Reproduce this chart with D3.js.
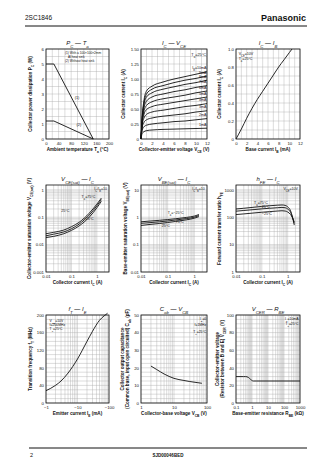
<!DOCTYPE html>
<html><head><meta charset="utf-8">
<script src="https://cdn.jsdelivr.net/npm/d3@7"></script>
<style>body{margin:0;background:#fff}svg{display:block}text{font-family:"Liberation Sans",Arial,sans-serif;fill:#111}</style>
</head><body><svg id="c" width="336" height="474"></svg>
<script>
// ---------- data ----------
// Chart 1: PC - Ta
const taVals = [0, 25, 150];
const pcHeatSink = [5.0, 5.0, 0];
const pcNoSink = [1.2, 1.2, 0];
// Chart 2: IC - VCE
const vceVals = [0, 0.2, 0.5, 1, 2, 4, 6, 8, 10, 12];
const ibLabels = ["I_{B}=10mA","9mA","8mA","7mA","6mA","5mA","4mA","3mA","2mA","1mA"];
const icCurves = [
  [0,0.35,0.62,0.80,0.88,0.95,1.00,1.04,1.08,1.12],
  [0,0.33,0.58,0.75,0.83,0.89,0.94,0.98,1.01,1.05],
  [0,0.31,0.55,0.70,0.77,0.83,0.87,0.91,0.94,0.98],
  [0,0.29,0.50,0.63,0.70,0.75,0.79,0.82,0.86,0.89],
  [0,0.27,0.45,0.56,0.62,0.67,0.70,0.73,0.77,0.80],
  [0,0.25,0.40,0.49,0.54,0.58,0.61,0.64,0.67,0.70],
  [0,0.22,0.34,0.41,0.45,0.48,0.51,0.54,0.56,0.59],
  [0,0.19,0.27,0.32,0.35,0.38,0.40,0.42,0.45,0.47],
  [0,0.14,0.20,0.23,0.25,0.27,0.29,0.30,0.32,0.34],
  [0,0.09,0.12,0.14,0.15,0.16,0.165,0.17,0.175,0.18]
];
// Chart 3: IC - IB
const ibVals = [0,1,2,3,4,5,6,7,8,9,10,10.5];
const icVsIb = [0,0.11,0.23,0.34,0.44,0.53,0.62,0.71,0.80,0.88,0.96,1.0];
// Chart 4: VCE(sat) - IC
const icSat = [0.01,0.02,0.05,0.1,0.2,0.5,1,1.5];
const vceSat75 = [0.025,0.028,0.034,0.045,0.065,0.14,0.30,0.50];
const vceSat25 = [0.021,0.024,0.029,0.038,0.056,0.12,0.26,0.44];
const vceSatM25 = [0.018,0.020,0.025,0.033,0.048,0.10,0.22,0.38];
// Chart 5: VBE(sat) - IC
const vbeSatM25 = [0.68,0.72,0.77,0.82,0.88,0.98,1.10,1.25];
const vbeSat25 = [0.60,0.63,0.68,0.73,0.79,0.89,1.00,1.15];
const vbeSat75 = [0.50,0.54,0.59,0.64,0.70,0.80,0.92,1.05];
// Chart 6: hFE - IC
const icHfe = [0.01,0.02,0.05,0.1,0.2,0.4,0.6,0.8,1.0,1.3,1.8];
const hfe75 = [200,212,232,248,262,275,280,270,240,170,52];
const hfe25 = [166,176,190,202,212,222,228,222,200,150,60];
const hfeM25 = [125,132,143,152,160,168,172,168,155,125,68];
// Chart 7: fT - IE
const ieVals = [-1,-2,-3,-5,-10,-20,-30,-50,-70,-90];
const ftVals = [28,40,50,68,100,140,163,188,198,204];
// Chart 8: Cob - VCB
const vcbVals = [2,3,5,10,20,30,50,70];
const cobVals = [21,19,16.5,14,12.8,12.2,11.6,11.2];
// Chart 9: VCER - RBE
const rbeVals = [0.1,0.3,0.4,0.6,0.8,1.2,2,10,100,1000];
const vcerVals = [30,30,30,29,27,25,25,25,25,25];

// ---------- helpers ----------
const svg = d3.select('#c');
const FONT = '"Liberation Sans",Arial,sans-serif';
function rich(t, str){
  const re=/_\{([^}]*)\}/g; let last=0,m;
  while((m=re.exec(str))){
    if(m.index>last) t.append('tspan').text(str.slice(last,m.index));
    t.append('tspan').attr('baseline-shift','sub').attr('font-size','72%').text(m[1]);
    last=re.lastIndex;
  }
  if(last<str.length) t.append('tspan').text(str.slice(last));
  return t;
}
function logGrid(a,b){
  const out=[];
  for(let e=Math.floor(Math.log10(a)); e<=Math.ceil(Math.log10(b)); e++)
    for(let k=1;k<10;k++){const v=k*Math.pow(10,e); if(v>=a*0.999&&v<=b*1.001) out.push(v);}
  return out;
}
function lin(a,b,s){const o=[];for(let v=a;v<=b+1e-9;v+=s)o.push(+v.toFixed(6));return o;}

function chart(o){
  const x=(o.xlog?d3.scaleLog():d3.scaleLinear()).domain(o.xd).range([o.l,o.r]);
  const y=(o.ylog?d3.scaleLog():d3.scaleLinear()).domain(o.yd).range([o.b,o.t]);
  const g=svg.append('g');
  g.selectAll('line.gx').data(o.xg).join('line').attr('x1',d=>x(d)).attr('x2',d=>x(d))
    .attr('y1',o.t).attr('y2',o.b).attr('stroke','#a8a8a8').attr('stroke-width',0.4);
  g.selectAll('line.gy').data(o.yg).join('line').attr('y1',d=>y(d)).attr('y2',d=>y(d))
    .attr('x1',o.l).attr('x2',o.r).attr('stroke','#a8a8a8').attr('stroke-width',0.4);
  g.append('rect').attr('x',o.l).attr('y',o.t).attr('width',o.r-o.l).attr('height',o.b-o.t)
    .attr('fill','none').attr('stroke','#111').attr('stroke-width',0.8);
  const ax=d3.axisBottom(x).tickValues(o.xt).tickFormat((d,i)=>o.xl[i]).tickSize(0).tickPadding(2.5);
  g.append('g').attr('transform',`translate(0,${o.b})`).call(ax)
    .attr('font-size',4.3).attr('font-family',FONT).call(s=>s.select('.domain').remove());
  const ay=d3.axisLeft(y).tickValues(o.yt).tickFormat((d,i)=>o.yl[i]).tickSize(0).tickPadding(2);
  g.append('g').attr('transform',`translate(${o.l},0)`).call(ay)
    .attr('font-size',4.3).attr('font-family',FONT).call(s=>s.select('.domain').remove());
  g.selectAll('.tick text').attr('fill','#111');
  rich(g.append('text').attr('x',(o.l+o.r)/2).attr('y',o.t-4).attr('text-anchor','middle')
    .attr('font-size',6).attr('font-style','italic'), o.title);
  rich(g.append('text').attr('x',(o.l+o.r)/2).attr('y',o.b+11.5).attr('text-anchor','middle')
    .attr('font-size',4.6).attr('font-weight','bold'), o.xtitle);
  o.ytitle.forEach((s,i)=>{
    rich(g.append('text').attr('transform',`translate(${o.l-o.yto+i*5},${(o.t+o.b)/2}) rotate(-90)`)
      .attr('text-anchor','middle').attr('font-size',4.6).attr('font-weight','bold'), s);
  });
  const line=d3.line().x(d=>x(d[0])).y(d=>y(d[1])).curve(o.curve||d3.curveMonotoneX);
  (o.series||[]).forEach(s=>{
    g.append('path').attr('d',line(s)).attr('fill','none').attr('stroke','#111').attr('stroke-width',o.sw||0.9);
  });
  (o.notes||[]).forEach(n=>{
    rich(g.append('text').attr('x',x(n[0])).attr('y',y(n[1])).attr('font-size',n[3]||3.8)
      .attr('text-anchor',n[4]||'start'), n[2]);
  });
  return {x,y,g};
}
const zip=(a,b)=>a.map((v,i)=>[v,b[i]]);

// ---------- header / footer ----------
svg.append('text').attr('x',25).attr('y',20).attr('font-size',6.5).text('2SC1846');
svg.append('text').attr('x',306).attr('y',20.5).attr('font-size',9).attr('font-weight','bold').attr('text-anchor','end').text('Panasonic');
svg.append('line').attr('x1',25).attr('x2',307).attr('y1',26).attr('y2',26).attr('stroke','#111').attr('stroke-width',1);
svg.append('line').attr('x1',29).attr('x2',307).attr('y1',448).attr('y2',448).attr('stroke','#111').attr('stroke-width',1);
svg.append('text').attr('x',30).attr('y',457).attr('font-size',5.5).text('2');
svg.append('text').attr('x',168).attr('y',457).attr('font-size',4.5).attr('font-weight','bold').attr('text-anchor','middle').text('SJD00046BED');

const R1={t:49,b:139}, R2={t:185,b:272}, R3={t:315,b:403};
const C1={l:46,r:109}, C2={l:141,r:207}, C3={l:236,r:300};

// Chart 1
const c1=chart({...R1,...C1,xd:[0,200],yd:[0,6],xg:lin(0,200,20),yg:lin(0,6,0.5),
  xt:[0,40,80,120,160,200],xl:['0','40','80','120','160','200'],
  yt:[0,1,2,3,4,5,6],yl:['0','1','2','3','4','5','6'],
  title:'P_{C} — T_{a}',xtitle:'Ambient temperature T_{a} (°C)',ytitle:['Collector power dissipation P_{C} (W)'],yto:14,
  curve:d3.curveLinear,series:[zip(taVals,pcHeatSink),zip(taVals,pcNoSink)],
  notes:[[91,2.7,'(1)',3.8],[97,0.85,'(2)',3.8]]});
c1.g.append('text').attr('x',65).attr('y',54).attr('font-size',3.2).text('(1) With a 100×100×2mm');
c1.g.append('text').attr('x',68).attr('y',58).attr('font-size',3.2).text('Al heat sink');
c1.g.append('text').attr('x',65).attr('y',62).attr('font-size',3.2).text('(2) Without heat sink');

// Chart 2
const c2=chart({...R1,...C2,xd:[0,12],yd:[0,1.5],xg:lin(0,12,1),yg:lin(0,1.5,0.125),
  xt:[0,2,4,6,8,10,12],xl:['0','2','4','6','8','10','12'],
  yt:[0,0.25,0.5,0.75,1,1.25,1.5],yl:['0','0.25','0.50','0.75','1.00','1.25','1.50'],
  title:'I_{C} — V_{CE}',xtitle:'Collector-emitter voltage V_{CE} (V)',ytitle:['Collector current I_{C} (A)'],yto:16,
  series:icCurves.map(c=>zip(vceVals,c)),
  notes:[[11.8,1.38,'T_{a}=25°C',3.8,'end']]});
icCurves.forEach((c,i)=>{
  rich(c2.g.append('text').attr('x',c2.x(11.9)).attr('y',c2.y(c[c.length-1])-2.5).attr('font-size',3.6).attr('text-anchor','end'), ibLabels[i]);
});

// Chart 3
chart({...R1,...C3,xd:[0,12],yd:[0,1.0],xg:lin(0,12,1),yg:lin(0,1,0.1),
  xt:[0,2,4,6,8,10,12],xl:['0','2','4','6','8','10','12'],
  yt:[0,0.2,0.4,0.6,0.8,1.0],yl:['0','0.2','0.4','0.6','0.8','1.0'],
  title:'I_{C} — I_{B}',xtitle:'Base current I_{B} (mA)',ytitle:['Collector current I_{C} (A)'],yto:15,
  series:[zip(ibVals,icVsIb)],
  notes:[[0.5,0.93,'V_{CE}=10V',3.6],[0.5,0.88,'T_{a}=25°C',3.6]]});

// Chart 4
chart({...R2,...C1,xlog:true,ylog:true,xd:[0.01,3],yd:[0.001,1.5],xg:logGrid(0.01,3),yg:logGrid(0.001,1.5),
  xt:[0.01,0.1,1],xl:['0.01','0.1','1'],yt:[0.001,0.01,0.1,1],yl:['0.001','0.01','0.1','1'],
  title:'V_{CE(sat)} — I_{C}',xtitle:'Collector current I_{C} (A)',ytitle:['Collector-emitter saturation voltage V_{CE(sat)} (V)'],yto:15,
  series:[zip(icSat,vceSat75),zip(icSat,vceSat25),zip(icSat,vceSatM25)],
  notes:[[2.5,1.0,'I_{C}/I_{B}=10',3.6,'end'],[0.25,0.5,'T_{a}=75°C',3.6],[0.04,0.15,'25°C',3.6],[0.3,0.08,'−25°C',3.6]]});

// Chart 5
chart({...R2,...C2,xlog:true,ylog:true,xd:[0.01,3],yd:[0.01,15],xg:logGrid(0.01,3),yg:logGrid(0.01,15),
  xt:[0.01,0.1,1],xl:['0.01','0.1','1'],yt:[0.01,0.1,1,10],yl:['0.01','0.1','1','10'],
  title:'V_{BE(sat)} — I_{C}',xtitle:'Collector current I_{C} (A)',ytitle:['Base-emitter saturation voltage V_{BE(sat)} (V)'],yto:14,
  series:[zip(icSat,vbeSatM25),zip(icSat,vbeSat25),zip(icSat,vbeSat75)],
  notes:[[2.5,10,'I_{C}/I_{B}=10',3.6,'end'],[0.1,1.3,'T_{a}=−25°C',3.6],[0.2,0.6,'75°C',3.6],[0.06,0.45,'25°C',3.6]]});

// Chart 6
chart({...R2,...C3,xlog:true,ylog:true,xd:[0.01,3],yd:[1,1500],xg:logGrid(0.01,3),yg:logGrid(1,1500),
  xt:[0.01,0.1,1],xl:['0.01','0.1','1'],yt:[1,10,100,1000],yl:['1','10','100','1000'],
  title:'h_{FE} — I_{C}',xtitle:'Collector current I_{C} (A)',ytitle:['Forward current transfer ratio h_{FE}'],yto:15,
  series:[zip(icHfe,hfe75),zip(icHfe,hfe25),zip(icHfe,hfeM25)],
  notes:[[2.5,1000,'V_{CE}=10V',3.6,'end'],[0.05,300,'T_{a}=75°C',3.6],[0.1,215,'25°C',3.6],[0.1,120,'−25°C',3.6]]});

// Chart 7
chart({...R3,...C1,xlog:true,xd:[-1,-100],yd:[0,200],xg:logGrid(1,100).map(v=>-v),yg:lin(0,200,10),
  xt:[-1,-10,-100],xl:['−1','−10','−100'],yt:[0,40,80,120,160,200],yl:['0','40','80','120','160','200'],
  title:'f_{T} — I_{E}',xtitle:'Emitter current I_{E} (mA)',ytitle:['Transition frequency f_{T} (MHz)'],yto:14,
  series:[zip(ieVals,ftVals)],
  notes:[[-1.3,185,'V_{CB}=10V',3.4],[-1.3,176,'f=200MHz',3.4],[-1.3,167,'T_{a}=25°C',3.4]]});

// Chart 8
chart({...R3,...C2,xlog:true,xd:[1,100],yd:[0,50],xg:logGrid(1,100),yg:lin(0,50,2.5),
  xt:[1,10,100],xl:['1','10','100'],yt:[0,10,20,30,40,50],yl:['0','10','20','30','40','50'],
  title:'C_{ob} — V_{CB}',xtitle:'Collector-base voltage V_{CB} (V)',ytitle:['Collector output capacitance','(Common base, input open circuited) C_{ob} (pF)'],yto:17,
  series:[zip(vcbVals,cobVals)],
  notes:[[95,47,'I_{E}=0',3.4,'end'],[95,43.5,'f=1MHz',3.4,'end'],[95,40,'T_{a}=25°C',3.4,'end']]});

// Chart 9
chart({...R3,...C3,xlog:true,xd:[0.1,1000],yd:[0,100],xg:logGrid(0.1,1000),yg:lin(0,100,5),
  xt:[0.1,1,10,100,1000],xl:['0.1','1','10','100','1000'],yt:[0,20,40,60,80,100],yl:['0','20','40','60','80','100'],
  title:'V_{CER} — R_{BE}',xtitle:'Base-emitter resistance R_{BE} (kΩ)',ytitle:['Collector-emitter voltage','(Resistor between B and E) V_{CER} (V)'],yto:17,
  curve:d3.curveMonotoneX,series:[zip(rbeVals,vcerVals)],
  notes:[[800,94,'I_{C}=10mA',3.4,'end'],[800,88.5,'T_{a}=25°C',3.4,'end']]});
</script></body></html>
